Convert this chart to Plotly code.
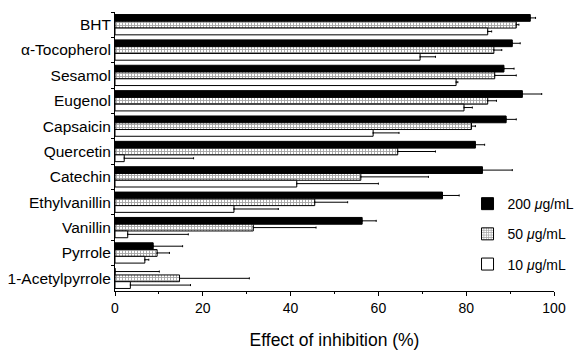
import plotly.graph_objects as go

compounds = ["BHT", "α-Tocopherol", "Sesamol", "Eugenol", "Capsaicin", "Quercetin",
             "Catechin", "Ethylvanillin", "Vanillin", "Pyrrole", "1-Acetylpyrrole"]
series_names = ["200 <i>μ</i>g/mL", "50 <i>μ</i>g/mL", "10 <i>μ</i>g/mL"]

val_200 = [94.6, 90.5, 88.6, 92.8, 89.1, 82.1, 83.7, 74.6, 56.3, 8.7, 0.0]
err_200 = [1.2, 1.8, 2.3, 4.4, 2.3, 2.1, 6.8, 3.8, 3.2, 6.7, 10.1]
val_50 = [91.4, 86.3, 86.5, 84.9, 81.2, 64.4, 56.0, 45.5, 31.5, 9.6, 14.7]
err_50 = [0.6, 1.8, 4.9, 2.0, 0.9, 8.6, 15.4, 7.5, 14.3, 2.8, 15.9]
val_10 = [84.9, 69.5, 77.7, 79.5, 58.8, 2.1, 41.4, 27.1, 2.9, 6.8, 3.5]
err_10 = [0.9, 3.5, 0.4, 1.9, 5.9, 15.8, 18.6, 10.1, 13.8, 0.9, 13.7]

font = "Liberation Sans, Arial, sans-serif"
fig = go.Figure()

def add(vals, errs, name, color, pattern=None, group="a"):
    marker = dict(color=color, line=dict(color="black", width=1))
    if pattern:
        marker["pattern"] = pattern
    fig.add_trace(go.Bar(
        x=vals, y=compounds, orientation="h", name=name, marker=marker,
        legendgroup=group,
        error_x=dict(type="data", array=errs, arrayminus=[0] * len(errs), symmetric=False,
                     color="black", thickness=1, width=1),
    ))

add(val_200, err_200, series_names[0], "black", group="a")
add(val_50, err_50, series_names[1], "white",
    pattern=dict(shape="+", fgcolor="#444444", bgcolor="white", size=3, solidity=0.5), group="b")
add(val_10, err_10, series_names[2], "white", group="c")

# page body has an 8px default margin, so the figure is 8px smaller than the window
fig.update_layout(
    width=576, height=342,
    margin=dict(l=107, r=30, t=4, b=59, autoexpand=False),
    paper_bgcolor="white", plot_bgcolor="white",
    barmode="group", bargap=0.2, bargroupgap=0,
    font=dict(family=font, size=14, color="black"),
    showlegend=True,
    legend=dict(x=0.803, y=0.369, xanchor="left", yanchor="top",
                traceorder="grouped", tracegroupgap=9, itemwidth=30,
                bgcolor="rgba(0,0,0,0)", font=dict(size=14)),
    xaxis=dict(range=[0, 100], tickvals=[0, 20, 40, 60, 80, 100], automargin=False,
               showline=True, linecolor="black", linewidth=1,
               ticks="outside", ticklen=4, tickcolor="black", tickfont=dict(size=14),
               minor=dict(dtick=10, tick0=0, ticks="outside", ticklen=2, tickcolor="black"),
               showgrid=False, zeroline=False,
               title=dict(text="Effect of inhibition (%)", font=dict(size=17.5), standoff=20)),
    yaxis=dict(autorange="reversed", showline=True, linecolor="black", linewidth=1, automargin=False,
               ticks="outside", ticklen=3, tickson="boundaries", tickcolor="black",
               tickfont=dict(size=15.5),
               showgrid=False, zeroline=False),
)

fig.write_html("out.html")
